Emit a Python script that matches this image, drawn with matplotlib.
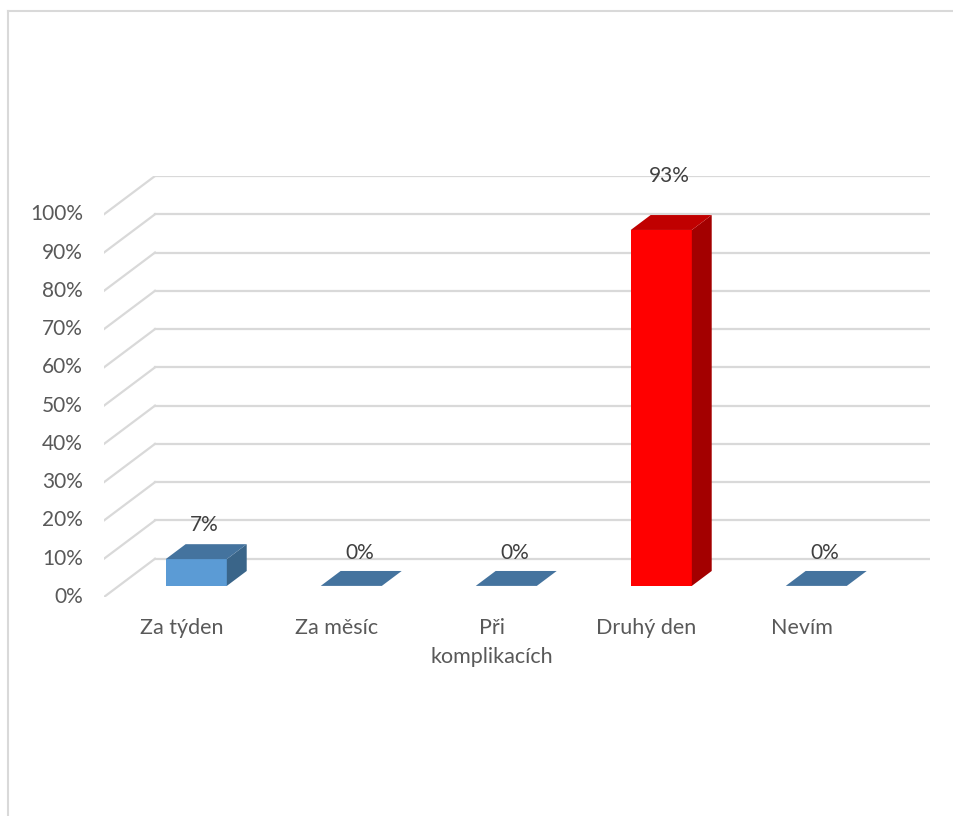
import numpy as np
import matplotlib.pyplot as plt
from matplotlib.patches import Polygon
from matplotlib.lines import Line2D

plt.rcParams["font.family"] = ["Lato", "DejaVu Sans"]

categories = ["Za týden", "Za měsíc", "Při\nkomplikacích", "Druhý den", "Nevím"]
values = [7, 0, 0, 93, 0]
value_labels = ["7%", "0%", "0%", "93%", "0%"]
yticks = [0, 10, 20, 30, 40, 50, 60, 70, 80, 90, 100]

# colours per bar: (front, top, side)
blue = ("#5B9BD5", "#44739E", "#3A6589")
red = ("#FF0000", "#C00000", "#A30000")
bar_colors = [blue, blue, blue, red, blue]

# oblique projection: depth 0..1 shifts by DX categories and DY percent
DX, DY = 0.329, 10.0
D0, D1 = 0.29, 0.68     # bar depth span
BW = 0.394              # bar width (category units)
GRID = "#D9D9D9"
TXT = "#595959"

W, H = 954, 816
fig = plt.figure(figsize=(W / 100, H / 100), dpi=100)
ax = fig.add_axes([104 / W, (H - 597) / H, (930 - 104) / W, (597 - 176) / H])
ax.set_xlim(0, 5 + DX)
ax.set_ylim(0, 100 + DY)
ax.axis("off")


def p(x, y, d):
    return (x + DX * d, y + DY * d)


# back wall gridlines + left wall diagonals
for t in yticks:
    ax.plot([DX, 5 + DX], [t + DY, t + DY], color=GRID, lw=1.6, zorder=1)
    ax.plot([0, DX], [t, t + DY], color=GRID, lw=1.6, zorder=1)
    ax.text(-0.135, t, f"{t}%", ha="right", va="center", fontsize=15, color=TXT)

for i, (v, cols) in enumerate(zip(values, bar_colors)):
    x0 = i + 0.5 - BW / 2
    x1 = i + 0.5 + BW / 2
    front, top, side = cols
    if v > 0:
        ax.add_patch(Polygon([p(x0, 0, D0), p(x1, 0, D0), p(x1, v, D0), p(x0, v, D0)],
                             closed=True, fc=front, ec="none", zorder=3))
        ax.add_patch(Polygon([p(x1, 0, D0), p(x1, 0, D1), p(x1, v, D1), p(x1, v, D0)],
                             closed=True, fc=side, ec="none", zorder=3))
    ax.add_patch(Polygon([p(x0, v, D0), p(x1, v, D0), p(x1, v, D1), p(x0, v, D1)],
                         closed=True, fc=top, ec="none", zorder=3))
    lx, ly = p(i + 0.5, v * 1.06 + 11.5, 0.45)
    ax.text(lx, ly - DY * 0.45, value_labels[i], ha="center", va="center",
            fontsize=15, color="#404040", zorder=4)
    ax.text(i + 0.5, -5.5, categories[i], ha="center", va="top", fontsize=15.5, color=TXT,
            linespacing=1.55)

# chart border (top and left)
fig.add_artist(Line2D([8 / W, 1], [1 - 11 / H, 1 - 11 / H], color=GRID, lw=1.5))
fig.add_artist(Line2D([8 / W, 8 / W], [0, 1 - 11 / H], color=GRID, lw=1.5))

fig.savefig("out.png", dpi=100)
